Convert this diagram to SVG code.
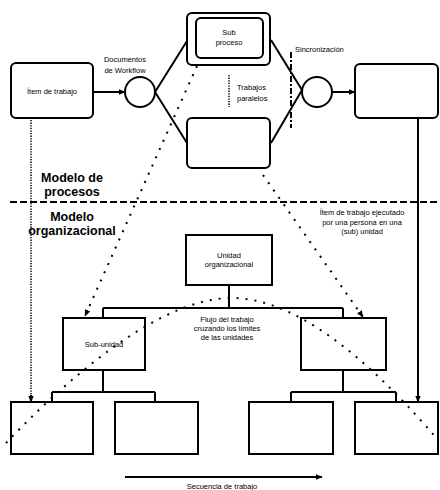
<svg xmlns="http://www.w3.org/2000/svg" width="440" height="490" viewBox="0 0 440 490">
<style>
.box{fill:#fff;stroke:#000;stroke-width:2}
.ln{stroke:#000;stroke-width:2;fill:none}
.dot{stroke:#000;stroke-width:2;stroke-dasharray:2 7;fill:none}
.fine{stroke:#000;stroke-width:1.5;stroke-dasharray:1.3 1.3;fill:none}
.dash{stroke:#000;stroke-width:2;stroke-dasharray:7 3;fill:none}
.dd{stroke:#000;stroke-width:2;stroke-dasharray:6 2 2 2;fill:none}
.t{font-family:"Liberation Sans",Arial,sans-serif;font-size:7.5px;text-anchor:middle;fill:#000}
.l{text-anchor:start}
.b{font-weight:bold;font-size:12.5px}
</style>
<defs>
<marker id="arr" viewBox="0 0 10 10" refX="9" refY="5" markerWidth="7" markerHeight="7" markerUnits="userSpaceOnUse" orient="auto"><path d="M0,1 L10,5 L0,9 z" fill="#000"/></marker>
</defs>
<rect width="440" height="490" fill="#fff"/>

<g id="item-trabajo"><rect class="box" x="11" y="63" width="82" height="55" rx="5"/><text class="t" x="52" y="94">Ítem de trabajo</text></g>
<g id="doc-workflow"><circle class="box" cx="140" cy="92" r="15"/><text class="t" x="125" y="62">Documentos</text><text class="t" x="125" y="73">de Workflow</text></g>
<g id="sub-proceso"><rect class="box" x="187" y="13" width="83" height="52" rx="5"/><rect class="box" x="196" y="18" width="67" height="40" rx="5"/><text class="t" x="229" y="35">Sub</text><text class="t" x="229" y="45">proceso</text></g>
<g id="paralelo"><rect class="box" x="187" y="118" width="83" height="50" rx="5"/></g>
<g id="trabajos-paralelos"><text class="t l" x="237" y="90">Trabajos</text><text class="t l" x="237" y="101">paralelos</text></g>
<g id="sincronizacion"><circle class="box" cx="317" cy="92" r="15"/><text class="t l" x="295" y="52">Sincronización</text></g>
<g id="item-final"><rect class="box" x="355" y="64" width="83" height="54" rx="5"/></g>
<g id="modelos"><text class="t b" x="72" y="182">Modelo de</text><text class="t b" x="72" y="196">procesos</text><text class="t b" x="72" y="221">Modelo</text><text class="t b" x="72" y="235">organizacional</text></g>
<g id="nota-item"><text class="t" x="362" y="215">Ítem de trabajo ejecutado</text><text class="t" x="362" y="225">por una persona en una</text><text class="t" x="362" y="234">(sub) unidad</text></g>
<g id="unidad-org"><rect class="box" x="186" y="235" width="86" height="50"/><text class="t" x="229" y="258">Unidad</text><text class="t" x="229" y="267">organizacional</text></g>
<g id="flujo"><text class="t" x="227" y="322">Flujo del trabajo</text><text class="t" x="227" y="331">cruzando los límites</text><text class="t" x="227" y="340">de las unidades</text></g>
<g id="sub-unidad-1"><rect class="box" x="63" y="318" width="82" height="52"/><text class="t" x="104" y="347">Sub-unidad</text></g>
<g id="sub-unidad-2"><rect class="box" x="301" y="318" width="85" height="52"/></g>
<g id="unidad-1"><rect class="box" x="11" y="402" width="82" height="52"/></g>
<g id="unidad-2"><rect class="box" x="115" y="402" width="83" height="52"/></g>
<g id="unidad-3"><rect class="box" x="249" y="402" width="84" height="52"/></g>
<g id="unidad-4"><rect class="box" x="355" y="402" width="83" height="52"/></g>
<g id="secuencia"><text class="t" x="222" y="489">Secuencia de trabajo</text></g>

<g id="connectors">
<line class="ln" x1="93" y1="92" x2="125" y2="92" marker-end="url(#arr)"/>
<line class="ln" x1="155" y1="92" x2="187" y2="41"/>
<line class="ln" x1="155" y1="92" x2="187" y2="143"/>
<line class="ln" x1="271" y1="40" x2="302" y2="90"/>
<line class="ln" x1="271" y1="143" x2="302" y2="90"/>
<line class="ln" x1="333" y1="92" x2="355" y2="92" marker-end="url(#arr)"/>
<line class="ln" x1="418" y1="118" x2="418" y2="402" marker-end="url(#arr)"/>
<line class="fine" x1="31" y1="120" x2="31" y2="396"/>
<line class="ln" x1="31" y1="395" x2="31" y2="402" marker-end="url(#arr)" stroke-width="0"/>
<line class="fine" x1="229" y1="75" x2="229" y2="107"/>
<line class="dd" x1="291" y1="52" x2="291" y2="128"/>
<line class="dash" x1="10" y1="202" x2="440" y2="202"/>
<line class="dot" x1="197" y1="66" x2="85" y2="316" marker-end="url(#arr)"/>
<line class="dot" x1="263" y1="175" x2="363" y2="317" marker-end="url(#arr)"/>
<path class="dot" d="M6 443 C70 376 160 298 232 298 C305 298 385 378 438 440"/>
<path class="ln" d="M229 285 V308 M103 308 H343 M103 308 V318 M343 308 V318"/>
<path class="ln" d="M103 370 V392 M52 392 H155 M52 392 V402 M155 392 V402"/>
<path class="ln" d="M343 370 V392 M291 392 H396 M291 392 V402 M396 392 V402"/>
<line class="ln" x1="125" y1="477" x2="322" y2="477" marker-end="url(#arr)"/>
</g>
</svg>
